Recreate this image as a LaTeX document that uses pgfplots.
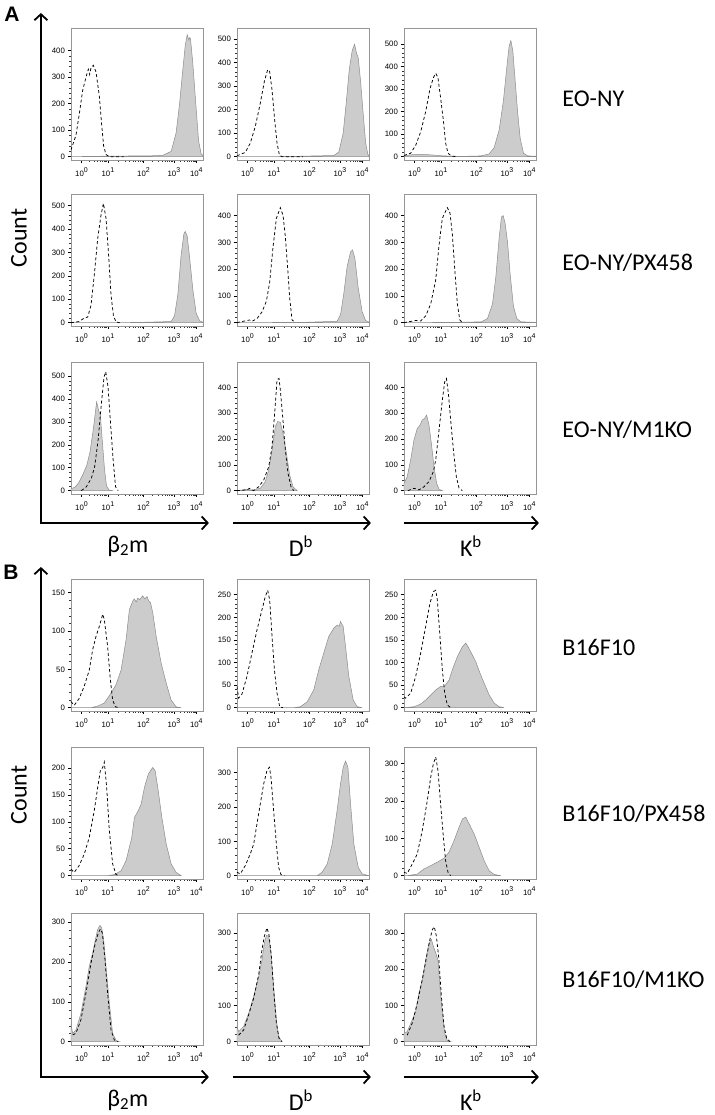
\documentclass[border=0pt]{standalone}
\usepackage{pgfplots}
\pgfplotsset{compat=1.18}
\usepackage{fontspec}
\setmainfont{Liberation Sans}
\newfontfamily\calfont{Carlito}
\usetikzlibrary{arrows.meta}
\definecolor{histfill}{RGB}{204,204,204}
\definecolor{histline}{RGB}{140,140,140}
\definecolor{framegray}{RGB}{150,150,150}
\newcommand{\ex}[1]{10\raisebox{4.4pt}{\fontsize{7}{7}\selectfont #1}}
\pgfplotsset{
  fc/.style={
    width=132pt, height=132pt, scale only axis,
    anchor=south west,
    xmin=0, xmax=100,
    axis line style={draw=framegray, line width=0.6pt},
    xtick={8,28,55,78,95},
    xticklabels={\ex{0},\ex{1},\ex{2},\ex{3},\ex{4}},
    minor xtick={14.0,17.5,20.0,22.0,23.6,24.9,26.1,27.1,36.1,40.9,44.3,46.9,49.0,50.8,52.4,53.8,61.9,66.0,68.8,71.1,72.9,74.4,75.8,76.9,83.1,86.1,88.2,89.9,91.2,92.4,93.4,94.2},
    minor y tick num=4,
    tick align=outside,
    xtick pos=bottom, ytick pos=left,
    major tick style={black, line width=0.6pt},
    minor tick style={black!80, line width=0.4pt},
    major tick length=3pt, minor tick length=1.6pt,
    /pgf/number format/assume math mode=true,
    /pgf/number format/1000 sep={},
    tick label style={font=\fontsize{7.8}{8}\selectfont},
    yticklabel style={xshift=0.5pt},
    xticklabel style={yshift=-1pt},
  },
  gr/.style={fill=histfill, draw=histline, line width=0.5pt},
  ds/.style={black, line width=0.75pt, dash pattern=on 3pt off 2.4pt},
}
\begin{document}
\begin{tikzpicture}[x=1pt,y=1pt]
\path (0,0) rectangle (714,1115);

%%%%%%%%%%%%%%%% GROUP A %%%%%%%%%%%%%%%%
% Row 1: EO-NY
\begin{axis}[fc, at={(70pt,955pt)}, ymin=-12.6, ymax=486, ytick={0,100,...,400}]
\addplot[gr] coordinates {(0,0)(30,2)(60,3)(69.6,5)(76,20)(79.7,90)(82.3,200)(84.8,330)(86.6,420)(88.1,460)(89.4,440)(90,450)(90.6,445)(92.4,350)(94.9,180)(96.7,60)(98.7,10)(100,5)} \closedcycle;
\addplot[ds] coordinates {(0,25)(3.8,80)(6.3,160)(8.9,250)(11.4,300)(13.2,330)(14.2,310)(15.2,335)(17,345)(19,320)(21.5,230)(23.3,120)(24.8,40)(26.6,8)(29,0)(40,0)};
\end{axis}
\begin{axis}[fc, at={(236pt,955pt)}, ymin=-14, ymax=547, ytick={0,100,...,500}]
\addplot[gr] coordinates {(0,0)(40,1)(73.4,5)(77.2,20)(80.5,100)(83,240)(85.1,370)(87.3,450)(89.1,478)(90.6,440)(91.9,420)(93.7,320)(95.7,180)(97.5,60)(99.2,10)(100,5)} \closedcycle;
\addplot[ds] coordinates {(0,3)(2.5,10)(6.3,18)(10.1,57)(13.9,128)(17.7,227)(20.8,320)(23.3,370)(24.8,362)(26.6,284)(28.6,156)(30.4,57)(32.2,7)(34.2,0)(50,0)};
\end{axis}
\begin{axis}[fc, at={(403pt,955pt)}, ymin=-15, ymax=571, ytick={0,100,...,500}]
\addplot[gr] coordinates {(0,3)(5,8)(12.7,10)(20,8)(27.8,4)(35,2)(45,1)(58.2,3)(64.6,12)(68.4,40)(72.2,120)(75.4,250)(78,400)(79.7,490)(81,515)(82.5,470)(84.1,350)(86.1,200)(88.1,80)(90.6,15)(93.7,3)(100,2)} \closedcycle;
\addplot[ds] coordinates {(0,5)(5.1,15)(8.9,50)(12.7,110)(16.5,200)(19.7,300)(22.3,350)(24.1,370)(25.8,350)(27.8,260)(29.9,160)(31.6,60)(33.4,15)(35.9,3)(39,0)};
\end{axis}
% Row 2: EO-NY/PX458
\begin{axis}[fc, at={(70pt,789pt)}, ymin=-14, ymax=550, ytick={0,100,...,500}]
\addplot[gr] coordinates {(0,0)(50,1)(75.9,5)(78.5,30)(81,120)(83.5,290)(85.6,380)(86.6,390)(88.1,370)(89.9,280)(92.4,140)(94.9,40)(97.5,8)(100,2)} \closedcycle;
\addplot[ds] coordinates {(0,0)(6.3,5)(10.1,20)(12.7,24)(15.2,74)(17.7,203)(20.3,360)(22.8,460)(24.6,510)(26.6,446)(28.4,303)(30.4,117)(32.2,31)(34.2,3)(37,0)};
\end{axis}
\begin{axis}[fc, at={(236pt,789pt)}, ymin=-12.5, ymax=481, ytick={0,100,...,400}]
\addplot[gr] coordinates {(0,0)(50,1)(75.9,5)(78.5,30)(81,110)(83.5,210)(86.1,265)(87.6,272)(89.4,240)(91.9,130)(94.9,40)(97.5,8)(100,2)} \closedcycle;
\addplot[ds] coordinates {(0,0)(7.6,8)(9.6,10)(11.4,5)(15.2,15)(19,40)(22.3,80)(24.8,150)(27.3,280)(29.9,390)(32.9,430)(35,400)(36.7,320)(38.5,200)(40,90)(41.8,10)(44.3,0)};
\end{axis}
\begin{axis}[fc, at={(403pt,789pt)}, ymin=-12.5, ymax=481, ytick={0,100,...,400}]
\addplot[gr] coordinates {(0,0)(40,1)(58.7,3)(63.3,15)(67.1,70)(69.6,170)(72.2,320)(73.9,395)(75.2,400)(76.7,370)(78.5,300)(80.5,180)(83,60)(85.6,15)(88.6,3)(100,1)} \closedcycle;
\addplot[ds] coordinates {(0,0)(8.9,8)(12.7,6)(16.5,25)(20.3,70)(24.1,160)(26.6,290)(29.1,390)(32.9,430)(34.9,410)(36.7,330)(38.5,200)(40.5,70)(42.3,10)(44.3,0)};
\end{axis}
% Row 3: EO-NY/M1KO
\begin{axis}[fc, at={(70pt,621pt)}, ymin=-14.6, ymax=562, ytick={0,100,...,500}]
\addplot[gr] coordinates {(0,8)(3,15)(6,35)(9,70)(12,110)(14.5,170)(17,270)(19.5,388)(21,350)(22.3,330)(24,200)(25.5,90)(27,20)(29,2)(32,0)} \closedcycle;
\addplot[ds] coordinates {(7.9,0)(11.7,17)(15.5,54)(18,105)(20.6,221)(23.1,381)(25.1,497)(26.4,519)(28.1,454)(30.2,279)(32,134)(33.8,17)(35.8,0)};
\end{axis}
\begin{axis}[fc, at={(236pt,621pt)}, ymin=-13, ymax=499, ytick={0,100,...,400}]
\addplot[gr] coordinates {(0,0)(7.6,5)(12,2)(17.7,9)(21.5,35)(24.1,80)(26.6,157)(29.1,248)(30.9,268)(32.9,265)(34.9,222)(37.5,145)(40,60)(42.5,15)(45.6,0)} \closedcycle;
\addplot[ds] coordinates {(0,0)(7.6,3)(9.6,9)(12.7,0)(16.5,15)(20.3,41)(24.1,93)(26.6,170)(28.6,300)(30.4,430)(31.9,435)(32.9,390)(34.7,285)(36.7,157)(38.7,67)(41,15)(43,0)};
\end{axis}
\begin{axis}[fc, at={(403pt,621pt)}, ymin=-13, ymax=499, ytick={0,100,...,400}]
\addplot[gr] coordinates {(0,28)(2.5,54)(5.1,119)(7.6,196)(10.1,241)(12.2,254)(13.9,274)(15.7,280)(17.2,293)(19,254)(20.8,183)(22.8,93)(24.8,28)(26.6,5)(29.1,0)} \closedcycle;
\addplot[ds] coordinates {(3,0)(7.6,9)(11.4,3)(15.2,15)(19,35)(22.3,74)(24.1,119)(26.6,235)(29.1,351)(30.9,422)(32.2,435)(33.7,377)(35.4,274)(37.5,157)(39.7,54)(41.8,9)(44.3,0)};
\end{axis}

%%%%%%%%%%%%%%%% GROUP B %%%%%%%%%%%%%%%%
% Row 1: B16F10
\begin{axis}[fc, at={(70pt,404pt)}, ymin=-4.4, ymax=168, ytick={0,50,...,150}]
\addplot[gr] coordinates {(0,0)(15.2,0)(20.3,2)(25.3,6)(30.4,19)(34.2,30)(38,49)(41.8,89)(44.3,128)(46.8,139)(48,142)(49.5,138)(50.6,143)(52,141)(54.4,146)(56,142)(57.7,145)(59,139)(60.3,137)(62,124)(64.6,93)(68.4,58)(72.2,32)(75.9,10)(79.7,1)(83.5,0)} \closedcycle;
\addplot[ds] coordinates {(0,8)(2.5,3)(6.3,12)(10.1,28)(13.9,49)(16.5,76)(19,93)(21.5,106)(24.1,122)(25.3,115)(27.8,80)(29.9,36)(31.6,10)(33.7,1)(36.7,0)};
\end{axis}
\begin{axis}[fc, at={(236pt,404pt)}, ymin=-7.4, ymax=285, ytick={0,50,...,250}]
\addplot[gr] coordinates {(0,0)(43,0)(48.1,2)(53.2,13)(58.2,39)(62,84)(65.8,121)(69.6,158)(73.4,176)(75.9,183)(77.5,180)(78.5,191)(79.5,185)(80.5,180)(82.3,135)(84.8,69)(88.1,17)(91.1,2)(94.9,0)} \closedcycle;
\addplot[ds] coordinates {(0,47)(1.3,21)(3.8,30)(7.6,69)(11.4,121)(15.2,172)(19,217)(21.5,246)(23.3,260)(24.8,239)(26.6,158)(28.4,84)(30.4,32)(32.4,2)(34.9,0)};
\end{axis}
\begin{axis}[fc, at={(403pt,404pt)}, ymin=-7.4, ymax=285, ytick={0,50,...,250}]
\addplot[gr] coordinates {(0,0)(7.6,2)(12.7,8)(16.5,17)(20.3,28)(24.1,39)(27.8,47)(30.9,48)(34.2,61)(36.7,84)(40.5,113)(44.3,135)(46.8,143)(48.6,135)(51.1,121)(54.4,102)(57.7,76)(60.8,54)(64.6,28)(68.4,10)(72.2,2)(75.9,0)} \closedcycle;
\addplot[ds] coordinates {(0,24)(1.3,21)(5.1,32)(8.9,69)(12.7,121)(16.5,180)(19.7,231)(22.3,257)(24.1,260)(25.3,239)(27.3,158)(29.1,84)(30.9,32)(32.9,6)(35.4,0)};
\end{axis}
% Row 2: B16F10/PX458
\begin{axis}[fc, at={(70pt,236pt)}, ymin=-6.2, ymax=239, ytick={0,50,...,200}]
\addplot[gr] coordinates {(0,0)(27.8,0)(32.9,2)(38,9)(41.8,28)(44.3,53)(46.1,71)(48.1,108)(51.1,121)(53.2,133)(55.7,164)(58.7,189)(62,201)(63.8,195)(65.8,164)(68.9,108)(72.2,59)(75.9,22)(79.7,6)(83.5,0)} \closedcycle;
\addplot[ds] coordinates {(0,12)(2.5,6)(6.3,19)(10.1,40)(13.9,71)(17.7,121)(20.3,164)(22.3,195)(24.1,201)(25.3,211)(27.1,164)(29.1,84)(31.6,22)(34.2,2)(36.7,0)};
\end{axis}
\begin{axis}[fc, at={(236pt,236pt)}, ymin=-9.8, ymax=375, ytick={0,100,...,300}]
\addplot[gr] coordinates {(0,0)(60.8,0)(64.6,10)(68.4,34)(72.2,92)(75.9,190)(78.5,268)(80.5,316)(82.3,334)(84.1,316)(86.1,209)(88.6,92)(91.9,24)(94.9,5)(100,0)} \closedcycle;
\addplot[ds] coordinates {(0,10)(2.5,5)(6.3,29)(10.1,63)(12.7,92)(15.2,151)(17.7,209)(20.3,268)(22.8,307)(24.6,316)(25.8,287)(27.8,190)(29.9,92)(31.6,24)(33.4,3)(35.9,0)};
\end{axis}
\begin{axis}[fc, at={(403pt,236pt)}, ymin=-9, ymax=345, ytick={0,100,...,300}]
\addplot[gr] coordinates {(0,0)(2.5,0)(10.1,4)(15.2,18)(20.3,27)(25.3,36)(30.4,47)(34.2,63)(38,94)(41.8,130)(44.3,152)(46.8,157)(49.4,139)(53.2,112)(57,76)(60.8,40)(64.6,13)(68.4,3)(73.4,0)} \closedcycle;
\addplot[ds] coordinates {(0,9)(2.5,6)(6.3,31)(10.1,58)(13.9,121)(17.7,201)(20.3,264)(22.3,300)(24.1,318)(25.8,282)(27.8,192)(29.9,103)(31.6,40)(33.4,9)(35.4,0)};
\end{axis}
% Row 3: B16F10/M1KO
\begin{axis}[fc, at={(70pt,70pt)}, ymin=-8.4, ymax=323, ytick={0,100,...,300}]
\addplot[gr] coordinates {(0,46)(1.3,21)(3.8,29)(7.6,71)(11.4,139)(13.9,189)(16.5,223)(18.5,256)(20.3,282)(22,292)(23.3,286)(24.8,256)(26.6,189)(29.1,97)(31.6,21)(34.2,3)(36.7,0)} \closedcycle;
\addplot[ds] coordinates {(1.3,17)(3.8,21)(7.6,55)(11.4,122)(15.2,197)(18.5,248)(20.8,273)(22.3,283)(23.8,273)(25.8,206)(27.8,122)(30.4,29)(32.9,4)(35.4,0)};
\end{axis}
\begin{axis}[fc, at={(236pt,70pt)}, ymin=-9.2, ymax=355, ytick={0,100,...,300}]
\addplot[gr] coordinates {(0,42)(1.3,28)(5.1,42)(8.9,78)(12.7,125)(16.5,180)(19,226)(20.8,272)(22.3,293)(24.1,291)(25.8,245)(27.8,152)(29.9,60)(31.6,14)(34.2,0)} \closedcycle;
\addplot[ds] coordinates {(1.3,18)(5.1,32)(8.9,74)(12.7,120)(16.5,185)(19,254)(20.8,291)(22.8,314)(24.3,295)(26.1,235)(27.8,143)(29.9,51)(31.9,9)(34.2,0)};
\end{axis}
\begin{axis}[fc, at={(403pt,70pt)}, ymin=-9.2, ymax=355, ytick={0,100,...,300}]
\addplot[gr] coordinates {(0,23)(2.5,28)(6.3,60)(8.9,83)(11.4,134)(13.9,171)(16.5,226)(19,272)(20.8,282)(22.3,263)(24.1,245)(25.8,226)(27.3,152)(29.1,78)(30.9,23)(32.9,3)(35.4,0)} \closedcycle;
\addplot[ds] coordinates {(2.5,18)(6.3,51)(10.1,106)(13.9,171)(17.2,235)(19.7,282)(21.5,309)(23,317)(24.6,291)(26.3,235)(28.4,125)(30.4,42)(32.4,9)(34.9,0)};
\end{axis}

%%%%%%%%%%%%%%%% frame arrows and labels %%%%%%%%%%%%%%%%
\begin{scope}[line width=1.8pt, black, arr/.style={-{Straight Barb[length=6pt,width=13pt]}}]
  \draw[arr] (40,591) -- (40,1102);
  \draw[arr] (39.1,592) -- (208,592);
  \draw[arr] (232,592) -- (370,592);
  \draw[arr] (403,592) -- (538,592);
  \draw[arr] (40,37) -- (40,548);
  \draw[arr] (39.1,38) -- (208,38);
  \draw[arr] (232,38) -- (370,38);
  \draw[arr] (403,38) -- (538,38);
\end{scope}

\node[font=\bfseries\fontsize{21}{23}\selectfont] at (11,1101) {A};
\node[font=\bfseries\fontsize{21}{23}\selectfont] at (10,543) {B};

\node[font=\calfont\fontsize{24}{26}\selectfont, rotate=90] at (18,877) {Count};
\node[font=\calfont\fontsize{24}{26}\selectfont, rotate=90] at (18,320) {Count};

\begin{scope}[every node/.style={font=\calfont\fontsize{24}{26}\selectfont}]
  \node at (127,569) {β\textsubscript{2}m};
  \node at (300,569) {D\textsuperscript{b}};
  \node at (470,569) {K\textsuperscript{b}};
  \node at (127,15) {β\textsubscript{2}m};
  \node at (300,15) {D\textsuperscript{b}};
  \node at (470,15) {K\textsuperscript{b}};
  \node[anchor=west] at (558,1016) {EO-NY};
  \node[anchor=west] at (558,852) {EO-NY/PX458};
  \node[anchor=west] at (558,685) {EO-NY/M1KO};
  \node[anchor=west] at (558,468) {B16F10};
  \node[anchor=west] at (558,301) {B16F10/PX458};
  \node[anchor=west] at (558,135) {B16F10/M1KO};
\end{scope}
\end{tikzpicture}
\end{document}
